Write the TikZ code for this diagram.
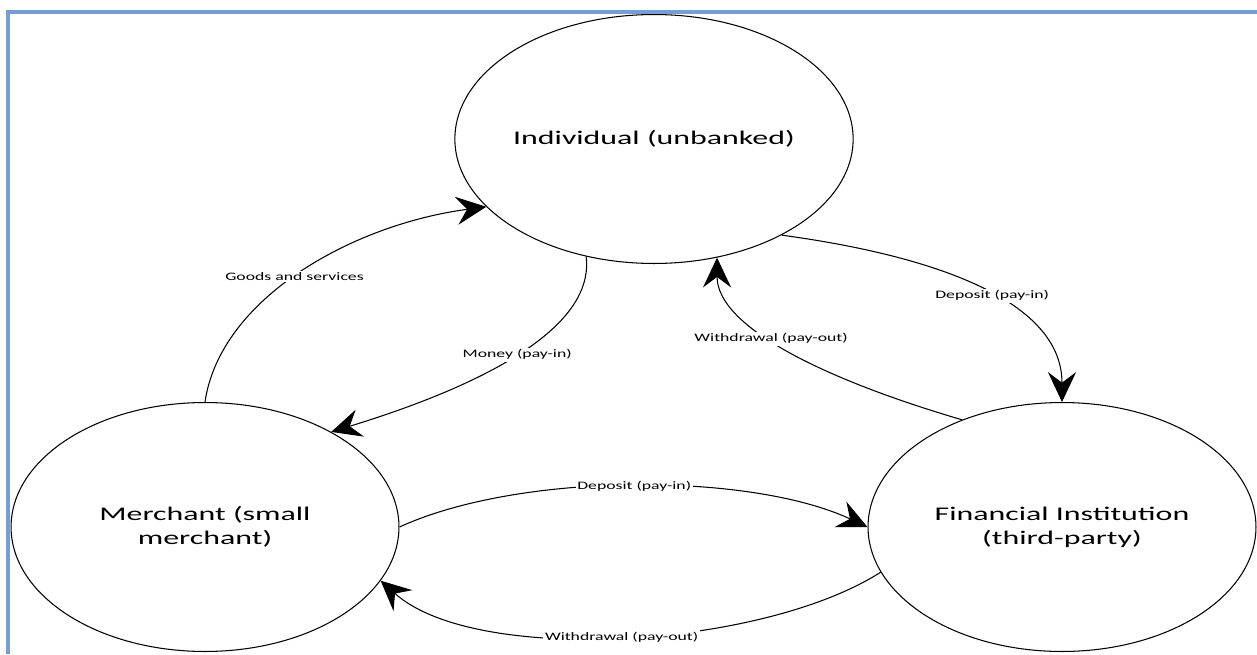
\documentclass[tikz,border=0pt]{standalone}
\usepackage{fontspec}
\usepackage{tikz}
\usetikzlibrary{arrows.meta}
\usetikzlibrary{shapes.geometric}
\newfontfamily\partyfont{Carlito}[FakeStretch=1.65]
\newfontfamily\flowfont{Carlito}[FakeStretch=1.55]
\definecolor{frameblue}{RGB}{118,158,212}

\begin{document}
\begin{tikzpicture}[x=0.02cm, y=0.02cm,
    party/.style={ellipse, draw, line width=0.6pt, minimum width=7.76cm, minimum height=4.98cm,
        inner sep=0pt, align=center, font=\partyfont\fontsize{11}{13.7}\selectfont},
    flow/.style={line width=0.6pt, -{Stealth[length=17pt, width=16pt, inset=6pt]}},
    flowlabel/.style={fill=white, inner sep=1pt, font=\flowfont\fontsize{6.5}{7.5}\selectfont},
    frameline/.style={draw=frameblue, line width=2pt}]
    \useasboundingbox (0,0) rectangle (1257,654);
    \draw[frameline] (8,0) -- (8,642) -- (1257,642);

    \node[party] (ind) at (654,515) {Individual (unbanked)};
    \node[party] (mer) at (205,127) {Merchant (small\\merchant)};
    \node[party] (fi) at (1062,127) {Financial Institution\\(third-party)};

    \draw[flow] (mer.north) .. controls +(15,103) and +(-135,-18) .. node[flowlabel, pos=0.48] {Goods and services} (ind.202);
    \draw[flow] (ind.240) .. controls +(9,-73) and +(147,45) .. node[flowlabel, pos=0.5] {Money (pay-in)} (mer.37);
    \draw[flow] (ind.323) .. controls +(148,-20) and +(0,103) .. node[flowlabel, pos=0.55] {Deposit (pay-in)} (fi.north);
    \draw[flow] (fi.133) .. controls +(-143,42) and +(0,-68) .. node[flowlabel, pos=0.56] {Withdrawal (pay-out)} (ind.298);
    \draw[flow] (mer.east) .. controls +(120,55) and +(-118,55) .. node[flowlabel, pos=0.5] {Deposit (pay-in)} (fi.west);
    \draw[flow] (fi.194) .. controls +(-119,-76) and +(95,-85) .. node[flowlabel, pos=0.5] {Withdrawal (pay-out)} (mer.343);
\end{tikzpicture}
\end{document}
